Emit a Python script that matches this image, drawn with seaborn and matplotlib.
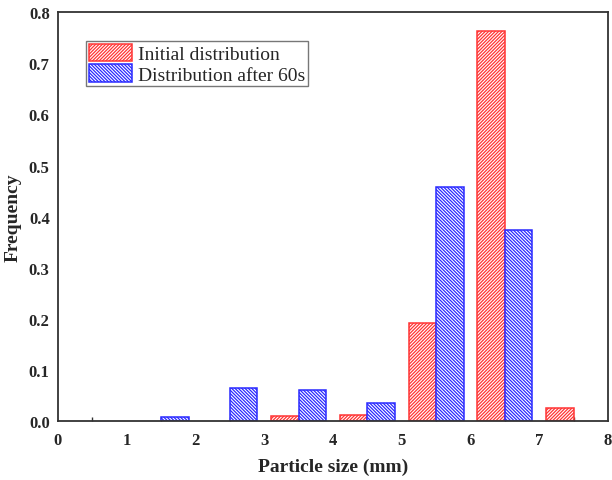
import numpy as np
import pandas as pd
import matplotlib
matplotlib.use("Agg")
import matplotlib.pyplot as plt
from matplotlib.patches import Patch
from matplotlib.ticker import MultipleLocator
import seaborn as sns

# ---- data ----
series_names = ["Initial distribution", "Distribution after 60s"]
bins_initial = [3.5, 4.5, 5.5, 6.5, 7.5]          # bin centres (mm)
freq_initial = [0.010, 0.012, 0.192, 0.763, 0.026]
bins_after = [1.5, 2.5, 3.5, 4.5, 5.5, 6.5]
freq_after = [0.008, 0.065, 0.061, 0.035, 0.459, 0.374]
x_ticks = [0, 1, 2, 3, 4, 5, 6, 7, 8]
y_ticks = [0.0, 0.1, 0.2, 0.3, 0.4, 0.5, 0.6, 0.7, 0.8]

colors = ["#ff3434", "#2a2aff"]
hatches = ["//////////", "\\\\\\\\\\\\\\\\\\\\"]

df = pd.concat([
    pd.DataFrame({"size": bins_initial, "freq": freq_initial, "series": series_names[0]}),
    pd.DataFrame({"size": bins_after, "freq": freq_after, "series": series_names[1]}),
], ignore_index=True)

sns.set_style("white")
plt.rcParams["font.family"] = ["Liberation Serif", "DejaVu Serif"]
plt.rcParams["hatch.linewidth"] = 0.9

fig = plt.figure(figsize=(6.12, 4.81), dpi=100)
ax = fig.add_axes([58 / 612, 1 - 422 / 481, 550 / 612, (422 - 13.3) / 481])

sns.barplot(data=df, x="size", y="freq", hue="series", hue_order=series_names,
            native_scale=True, width=0.8, palette=colors, ax=ax,
            errorbar=None, legend=False, linewidth=1.1)

for cont, col, h in zip(ax.containers, colors, hatches):
    for bar in cont:
        bar.set_facecolor("white")
        bar.set_edgecolor(col)
        bar.set_hatch(h)
        bar.set_linewidth(1.1)

ax.set_xlim(0, 8)
ax.set_ylim(0, 0.8)
ax.set_xticks(x_ticks)
ax.set_yticks(y_ticks)
ax.set_xticklabels([str(v) for v in x_ticks])
ax.set_yticklabels([f"{v:.1f}" for v in y_ticks])
ax.xaxis.set_minor_locator(MultipleLocator(0.5))

ax.tick_params(axis="both", which="major", direction="in", length=5, width=1.2,
               color="#333333", labelsize=12)
ax.tick_params(axis="x", which="major", pad=8)
ax.tick_params(axis="y", which="major", pad=6)
ax.tick_params(axis="x", which="minor", direction="in", length=3, width=1.0,
               color="#333333", bottom=True)
ax.tick_params(axis="y", which="minor", left=False)
ax.tick_params(top=False, right=False)
for lab in ax.get_xticklabels() + ax.get_yticklabels():
    lab.set_fontweight("bold")

for sp in ax.spines.values():
    sp.set_visible(True)
    sp.set_color("#333333")
    sp.set_linewidth(1.3)

ax.set_xlabel("Particle size (mm)", fontsize=14, fontweight="bold", labelpad=7)
ax.set_ylabel("Frequency", fontsize=14, fontweight="bold", labelpad=5)

handles = [Patch(facecolor="white", edgecolor=c, hatch=h, linewidth=1.1)
           for c, h in zip(colors, hatches)]
leg = ax.legend(handles, series_names, loc="upper left",
                bbox_to_anchor=(0.051, 0.930), borderaxespad=0,
                prop={"size": 14}, frameon=True, fancybox=False,
                handlelength=2.2, handleheight=1.0, labelspacing=0.05,
                handletextpad=0.3, borderpad=0.15)
leg.get_frame().set_edgecolor("#555555")
leg.get_frame().set_linewidth(1.0)

fig.savefig("out.png", dpi=100)
